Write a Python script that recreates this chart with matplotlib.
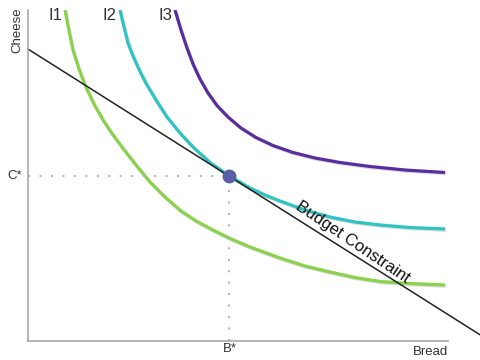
import matplotlib
matplotlib.use("Agg")
import matplotlib.pyplot as plt
import matplotlib.patheffects as pe

plt.rcParams['font.family'] = ['Liberation Sans', 'DejaVu Sans']

# Indifference curves (bread, cheese)
i1_x = [0.881, 0.976, 1.071, 1.214, 1.357, 1.571, 1.786, 2.000, 2.238, 2.571, 2.905, 3.262,
        3.643, 4.024, 4.405, 4.810, 5.286, 6.000, 6.595, 7.190, 7.786, 8.381, 9.095, 9.929]
i1_y = [10.00, 9.366, 8.792, 8.218, 7.734, 7.160, 6.677, 6.269, 5.861, 5.317, 4.804, 4.350,
        3.927, 3.610, 3.353, 3.097, 2.840, 2.508, 2.266, 2.085, 1.918, 1.798, 1.737, 1.692]

i2_x = [2.190, 2.286, 2.381, 2.476, 2.595, 2.714, 2.833, 3.071, 3.310, 3.619, 3.929,
        4.333, 4.762, 5.286, 5.643, 6.000, 6.595, 7.190, 7.786, 8.381, 9.095, 9.929]
i2_y = [10.00, 9.486, 9.003, 8.686, 8.338, 8.021, 7.734, 7.236, 6.767, 6.284, 5.861,
        5.393, 5.015, 4.622, 4.411, 4.230, 3.958, 3.746, 3.595, 3.505, 3.429, 3.384]

i3_x = [3.500, 3.643, 3.786, 3.929, 4.095, 4.286, 4.500, 4.762, 5.071, 5.429, 5.833,
        6.310, 6.833, 7.429, 8.143, 8.976, 9.929]
i3_y = [10.00, 9.396, 8.852, 8.369, 7.915, 7.492, 7.115, 6.767, 6.435, 6.148, 5.906,
        5.695, 5.529, 5.393, 5.272, 5.166, 5.091]

budget_x = [0.0, 10.76]
budget_y = [8.82, 0.19]

opt_b = 4.786
opt_c = 4.985

curve_labels = ["I1", "I2", "I3"]

fig = plt.figure(figsize=(4.81, 3.60), dpi=100)
ax = fig.add_axes([28/481, 19/360, 420/481, 331/360])
ax.set_xlim(0, 10)
ax.set_ylim(0, 10)

shadow = [pe.SimpleLineShadow(offset=(0.6, -0.9), shadow_color='#999999', alpha=0.35), pe.Normal()]
kw = dict(lw=2.3, solid_capstyle='butt', solid_joinstyle='round', path_effects=shadow)
ax.plot(i1_x, i1_y, color='#8ad24c', **kw)
ax.plot(i2_x, i2_y, color='#2fc3c3', **kw)
ax.plot(i3_x, i3_y, color='#5a2d9f', **kw)
ax.plot(budget_x, budget_y, color='#222222', lw=1.1, clip_on=False)

ax.plot([0, opt_b], [opt_c, opt_c], color='#b8b8b8', lw=1.5, linestyle=(0, (1, 4.5)))
ax.plot([opt_b, opt_b], [0, opt_c], color='#b8b8b8', lw=1.5, linestyle=(0, (1, 4.5)))
ax.plot([opt_b], [opt_c], 'o', color='#5b5ea6', ms=9, zorder=5)

for s in ['top', 'right']:
    ax.spines[s].set_visible(False)
for s in ['left', 'bottom']:
    ax.spines[s].set_color('#a8a8a8')
    ax.spines[s].set_linewidth(1.2)
ax.set_xticks([])
ax.set_yticks([])

tc = '#333333'
fig.text(17/481, 1 - 30/360, "Cheese", rotation=90, ha='center', va='center', fontsize=9.5, color=tc)
fig.text(431/481, 1 - 352/360, "Bread", ha='center', va='center', fontsize=9.5, color=tc)
fig.text(230/481, 1 - 349/360, "B*", ha='center', va='center', fontsize=9.5, color=tc)
fig.text(15/481, 1 - 176/360, "C*", ha='center', va='center', fontsize=9.5, color=tc)
for lab, px in zip(curve_labels, [55, 110, 165]):
    fig.text(px/481, 1 - 16/360, lab, ha='center', va='center', fontsize=12, color=tc)

ax.text(7.72, 2.98, "Budget Constraint", rotation=-34, ha='center', va='center',
        fontsize=12, color='#111111', rotation_mode='anchor')

fig.savefig("out.png", dpi=100)
